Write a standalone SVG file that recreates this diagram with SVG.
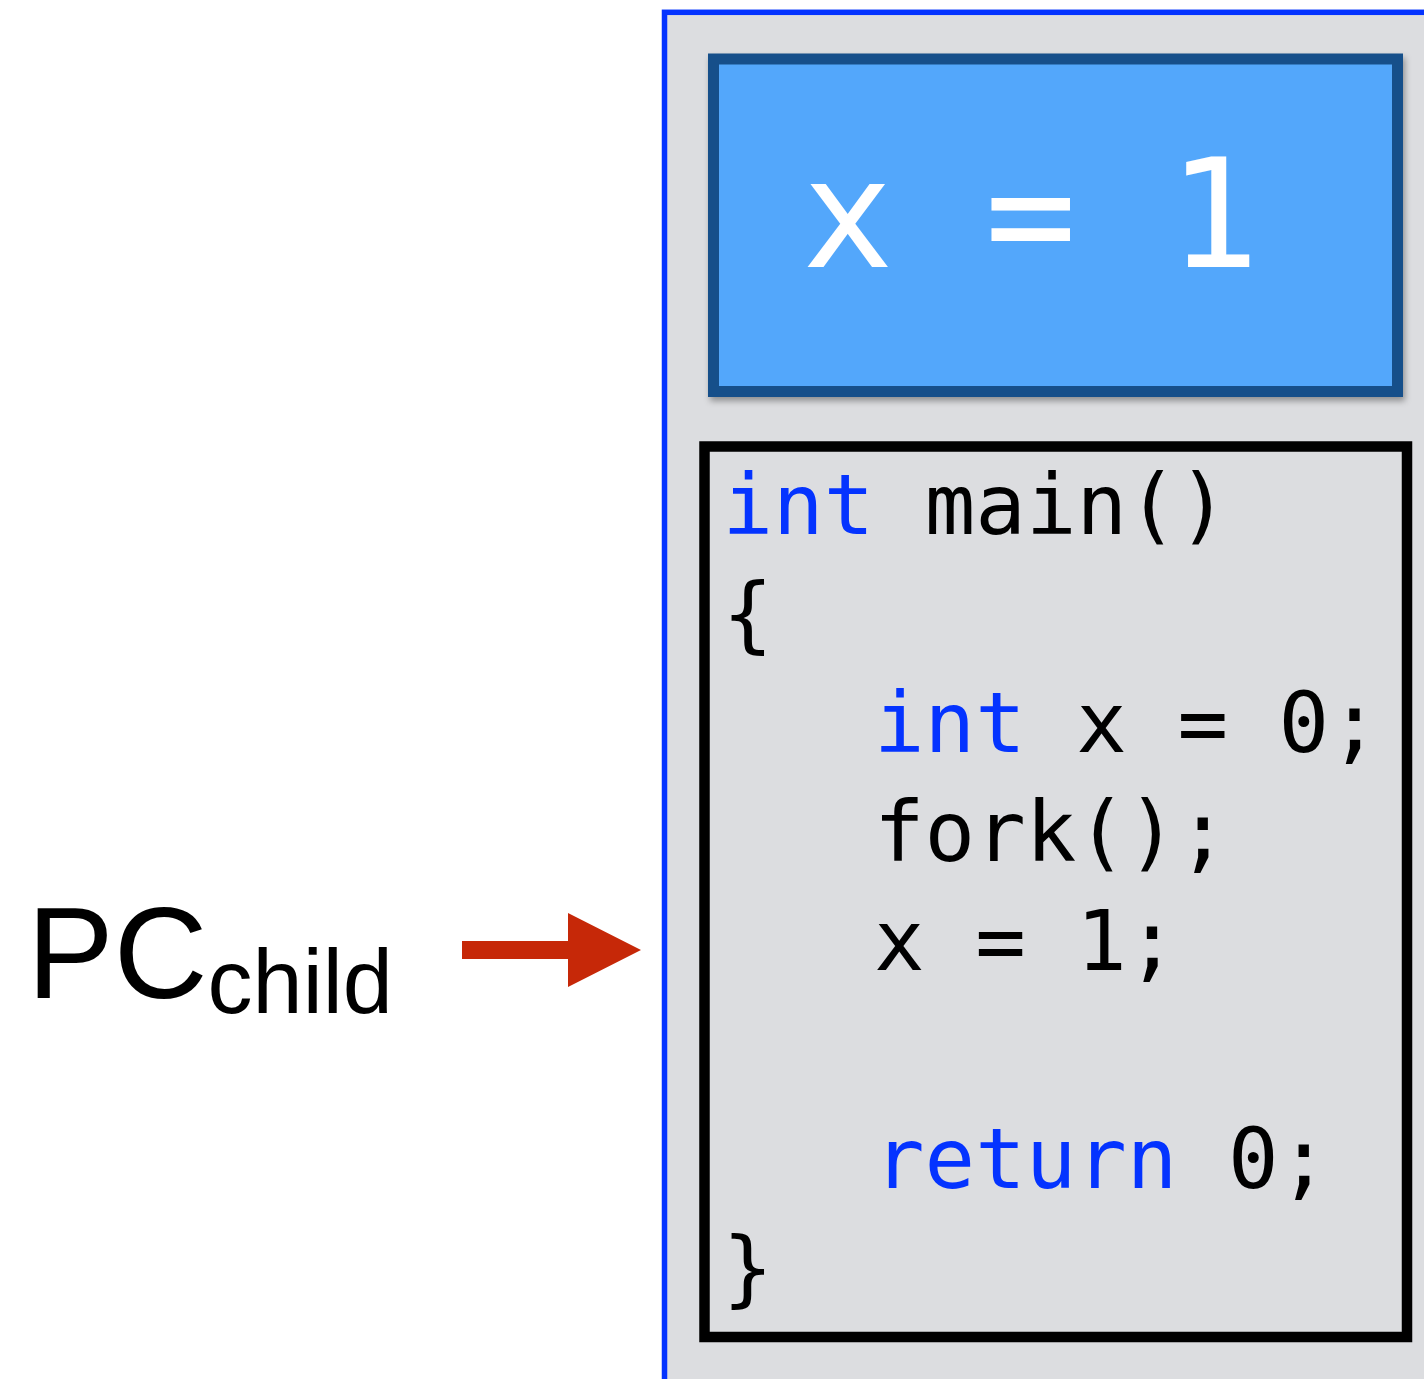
<svg xmlns="http://www.w3.org/2000/svg" width="1424" height="1379" viewBox="0 0 1424 1379">
<defs>
<style>
.code{font-family:"DejaVu Sans Mono","Liberation Mono",monospace;font-size:84px;fill:#000000;}
.kw{fill:#0433ff;}
.big{font-family:"DejaVu Sans Mono","Liberation Mono",monospace;font-size:152px;fill:#ffffff;}
.label{font-family:"Liberation Sans",Arial,sans-serif;fill:#000000;}
</style>
<filter id="shadow" x="-5%" y="-5%" width="110%" height="115%">
<feDropShadow dx="2" dy="4" stdDeviation="3" flood-color="#000000" flood-opacity="0.35"/>
</filter>
</defs>
<rect x="0" y="0" width="1424" height="1379" fill="#ffffff"/>
<g id="process-panel">
<rect x="664.5" y="12.3" width="900" height="1500" fill="#dcdde0" stroke="#0433ff" stroke-width="5.5"/>
</g>
<g id="memory-box">
<rect x="713.5" y="59" width="684" height="332.5" fill="#52a7fb" stroke="#17508a" stroke-width="11" filter="url(#shadow)"/>
<text class="big" x="802" y="267" xml:space="preserve">x = 1</text>
</g>
<g id="code-box">
<rect x="704.5" y="446.5" width="702.5" height="890.5" fill="none" stroke="#000000" stroke-width="10.5"/>
<text class="code" xml:space="preserve">
<tspan x="722.5" y="534"><tspan class="kw">int</tspan> main()</tspan>
<tspan x="722.5" y="643">{</tspan>
<tspan x="874" y="752"><tspan class="kw">int</tspan> x = 0;</tspan>
<tspan x="874" y="861">fork();</tspan>
<tspan x="874" y="970">x = 1;</tspan>
<tspan x="874" y="1188"><tspan class="kw">return</tspan> 0;</tspan>
<tspan x="722.5" y="1297">}</tspan>
</text>
</g>
<g id="pc-label">
<text class="label" x="27" y="998" font-size="130">PC<tspan font-size="90" y="1013">child</tspan></text>
</g>
<g id="connectors">
<polygon points="462,941 568,941 568,913 641,950 568,987 568,959 462,959" fill="#c62808"/>
</g>
</svg>
